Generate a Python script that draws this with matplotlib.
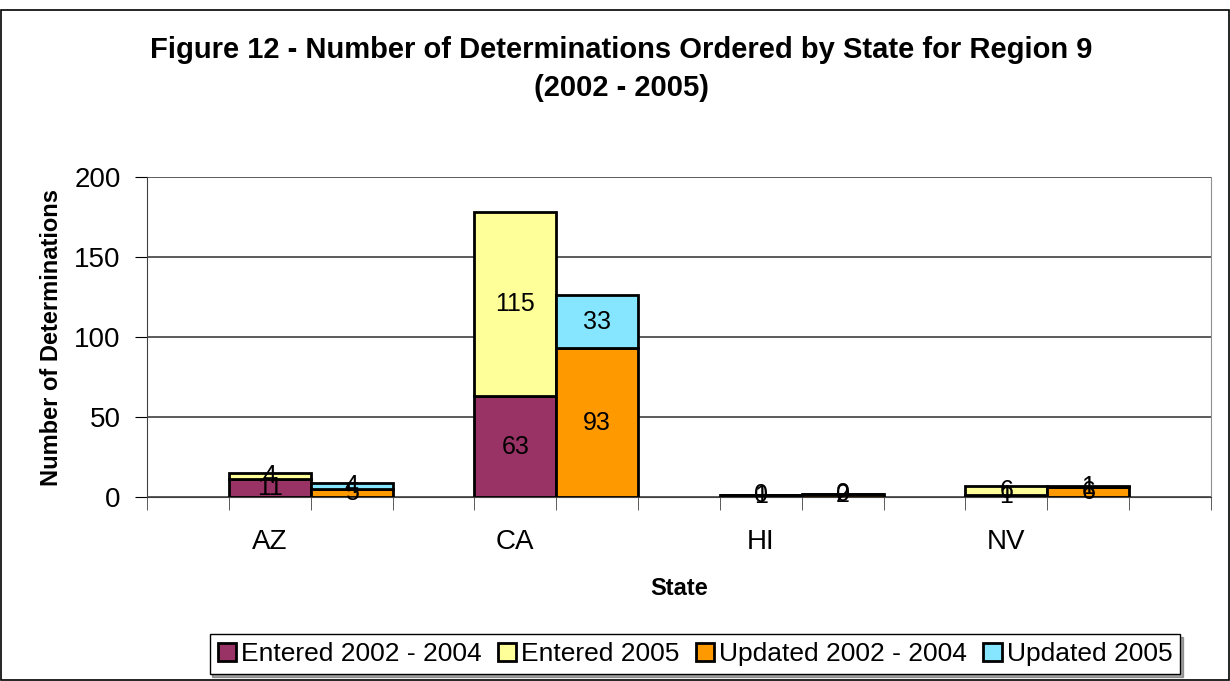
import matplotlib.pyplot as plt
from matplotlib.patches import Rectangle

plt.rcParams['font.family'] = ['Liberation Sans', 'DejaVu Sans']

# data
states = ["AZ", "CA", "HI", "NV"]
entered_2002_2004 = [11, 63, 1, 1]
entered_2005 = [4, 115, 0, 6]
updated_2002_2004 = [5, 93, 2, 6]
updated_2005 = [4, 33, 0, 1]

c_ent_old = "#993366"
c_ent_new = "#FFFF99"
c_upd_old = "#FF9900"
c_upd_new = "#87E6FF"

fig = plt.figure(figsize=(12.3, 6.81), dpi=100)
ax = fig.add_axes([147 / 1230, 1 - 497 / 681, (1211 - 147) / 1230, (497 - 177) / 681])

# each state takes three slots: entered, updated, gap
x_ent = [1.5 + 3 * i for i in range(len(states))]
x_upd = [2.5 + 3 * i for i in range(len(states))]

kw = dict(width=1.0, edgecolor="black", linewidth=2, zorder=3)
b1 = ax.bar(x_ent, entered_2002_2004, color=c_ent_old, label="Entered 2002 - 2004", **kw)
b2 = ax.bar(x_ent, entered_2005, bottom=entered_2002_2004, color=c_ent_new, label="Entered 2005", **kw)
b3 = ax.bar(x_upd, updated_2002_2004, color=c_upd_old, label="Updated 2002 - 2004", **kw)
b4 = ax.bar(x_upd, updated_2005, bottom=updated_2002_2004, color=c_upd_new, label="Updated 2005", **kw)

for bars, vals, bottoms in [(b1, entered_2002_2004, [0] * 4),
                            (b2, entered_2005, entered_2002_2004),
                            (b3, updated_2002_2004, [0] * 4),
                            (b4, updated_2005, updated_2002_2004)]:
    for bar, v, b in zip(bars, vals, bottoms):
        ax.text(bar.get_x() + bar.get_width() / 2, b + v / 2, str(v),
                ha="center", va="center", fontsize=18, zorder=4)

ax.set_xlim(0, 13)
ax.set_ylim(0, 200)
ax.set_yticks([0, 50, 100, 150, 200])
ax.set_xticks(x_ent)
ax.set_xticklabels(states)
ax.set_xticks(range(0, 14), minor=True)
ax.tick_params(axis="x", which="major", length=0, pad=23, labelsize=20)
ax.tick_params(axis="x", which="minor", length=9, direction="out", color="#404040")
ax.tick_params(axis="y", length=9, direction="out", labelsize=20, pad=10)

ax.grid(axis="y", color="#404040", linewidth=1.2, zorder=0)
ax.spines["top"].set_visible(False)
ax.spines["right"].set_color("#909090")
ax.spines["left"].set_color("#404040")
ax.spines["bottom"].set_color("#404040")

ax.set_ylabel("Number of Determinations", fontsize=17, fontweight="bold", labelpad=8)
ax.set_xlabel("State", fontsize=17, fontweight="bold", labelpad=16)

fig.text(0.505, 1 - 50 / 681, "Figure 12 - Number of Determinations Ordered by State for Region 9",
         ha="center", va="center", fontsize=21, fontweight="bold")
fig.text(0.505, 1 - 88 / 681, "(2002 - 2005)", ha="center", va="center",
         fontsize=21, fontweight="bold")

leg = fig.legend(loc="center", bbox_to_anchor=(695 / 1230, 1 - 654 / 681), ncol=4,
                 fontsize=19, frameon=True, fancybox=False, shadow=True,
                 handlelength=0.7, handleheight=0.7, handletextpad=0.2,
                 columnspacing=0.6, borderpad=0.3)
leg.get_frame().set_edgecolor("black")
leg.get_frame().set_linewidth(1)

fig.patches.append(Rectangle((0.001, 0.001), 0.998, 0.985, transform=fig.transFigure,
                             fill=False, edgecolor="black", linewidth=1.2))

fig.savefig("out.png", dpi=100)
